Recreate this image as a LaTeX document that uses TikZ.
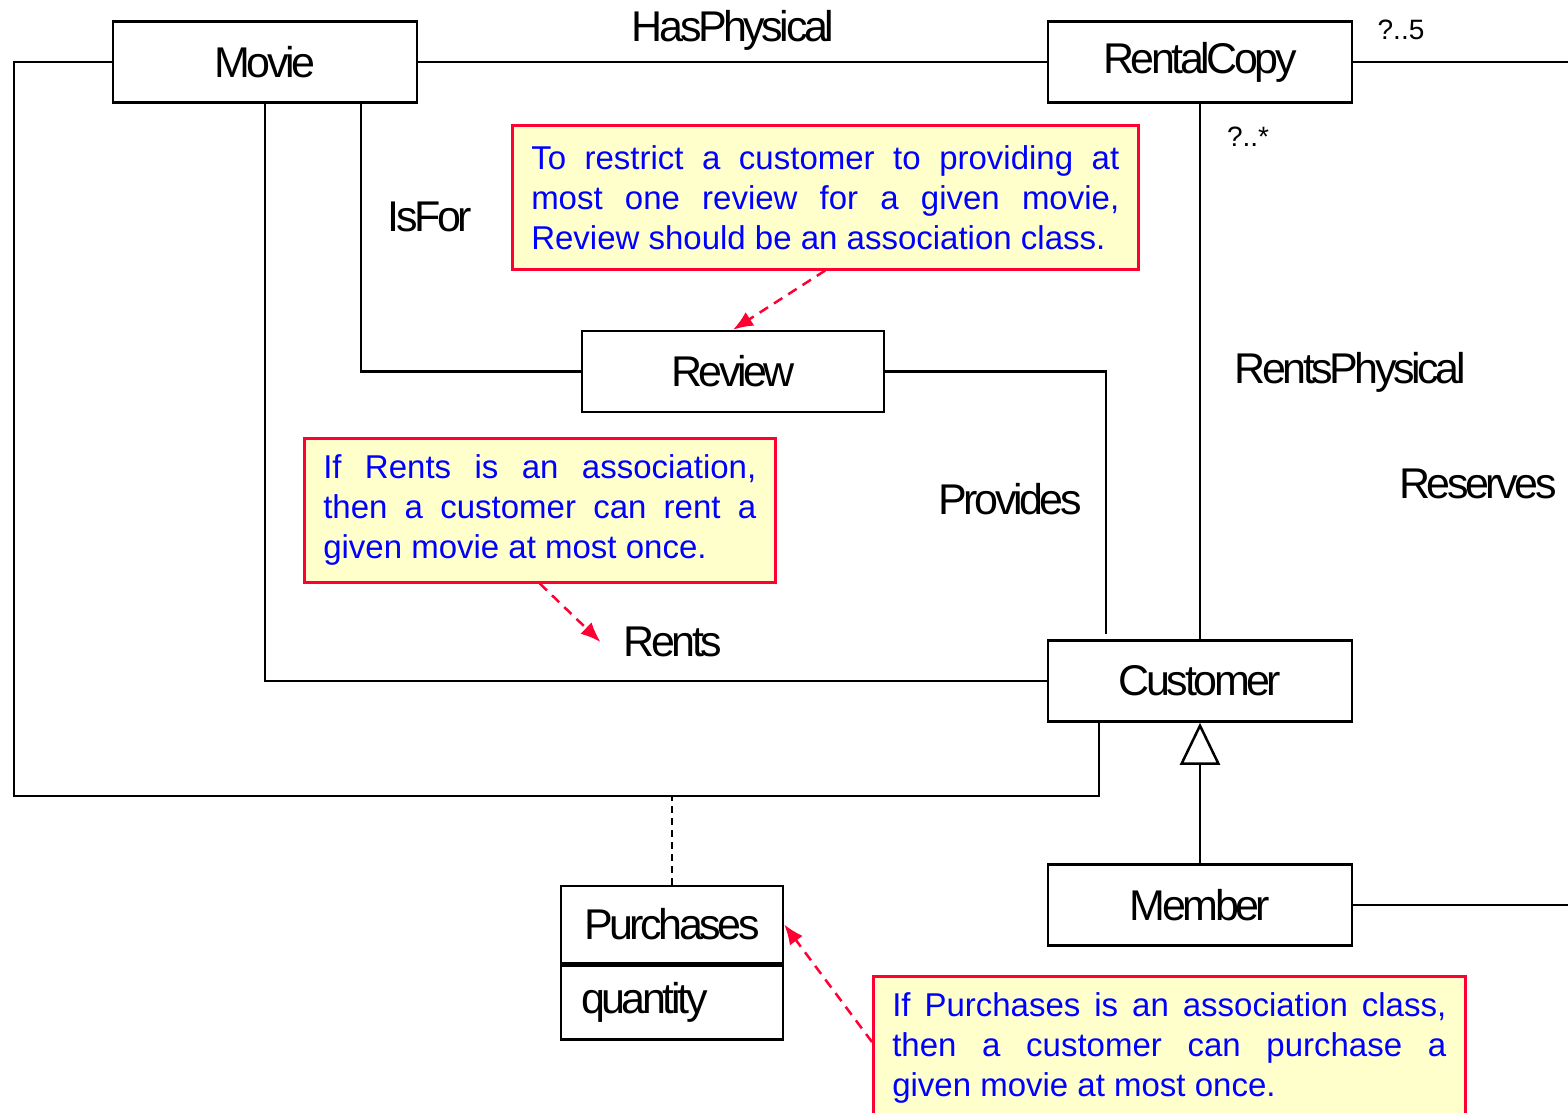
\documentclass[tikz,border=0pt]{standalone}
\usepackage{fontspec}
\setmainfont{Liberation Sans}
\newfontfamily\umlfont[LetterSpace=-8]{Liberation Sans}
\usetikzlibrary{arrows.meta,positioning}
\definecolor{notered}{HTML}{FF0033}
\definecolor{notefill}{HTML}{FFFFCC}
\definecolor{noteblue}{HTML}{0000FF}
\tikzset{
	umlclass/.style={draw, line width=2.5pt, minimum width=304pt, minimum height=81pt, inner sep=0pt, font=\umlfont\fontsize{43}{50}\selectfont},
	assoclabel/.style={inner sep=3pt, font=\umlfont\fontsize{43}{50}\selectfont},
	multlabel/.style={inner sep=2pt, font=\fontsize{28}{32}\selectfont},
	umlnote/.style={draw=notered, fill=notefill, line width=2.5pt, inner xsep=19pt, inner ysep=14pt, minimum height=144pt, anchor=north west, text=noteblue, align=justify, font=\fontsize{33}{40}\selectfont},
	notearrow/.style={draw=notered, line width=2.5pt, dash pattern=on 10pt off 7pt, -{Latex[length=20pt,width=16pt]}},
	assoc/.style={line width=2.5pt},
}
\begin{document}
\begin{tikzpicture}[x=1pt,y=-1pt]
			\useasboundingbox (0,0) rectangle (1568,1112);
			\clip (0,0) rectangle (1568,1112);

			% classes
			\node[umlclass] (movie) at (265,62) {Movie};
			\node[umlclass] (rentalcopy) at (1200,62) {RentalCopy};
			\node[umlclass, minimum width=302pt] (review) at (733,371.5) {Review};
			\node[umlclass] (customer) at (1200,681) {Customer};
			\node[umlclass] (member) at (1200,905) {Member};
			\node[umlclass, minimum width=222pt, minimum height=77pt] (purchases) at (672,924.5) {Purchases};
			\node[umlclass, minimum width=222pt, minimum height=74pt, anchor=north, text width=182pt, inner xsep=20pt, align=left] (quantity) at (purchases.south) {quantity};

			\coordinate (rcout) at (1572,62);
			\coordinate (memberout) at (1572,905);
			\coordinate (loopcorner) at (14,796);

			% associations
			\draw[assoc] (movie) -- (rentalcopy);
			\draw[assoc] (rentalcopy.east) -- (rcout);
			\draw[assoc] (rentalcopy) -- (customer);
			\draw[assoc] ([xshift=96pt]movie.south) |- (review.west);
			\draw[assoc] (review.east) -| ([xshift=-94pt,yshift=5pt]customer.north);
			\draw[assoc] (movie.south) |- (customer.west);
			\draw[assoc] (movie.west) -| (loopcorner) -| ([xshift=-101pt]customer.south);
			\draw[line width=2pt, dash pattern=on 7pt off 5pt] (purchases.north) -- (purchases.north |- loopcorner);
			\draw[assoc] (member.east) -- (memberout);
			\draw[assoc, -{Triangle[open, length=42pt, width=40pt, line width=2.5pt]}] (member) -- (customer);

			% labels
			\node[assoclabel] (hasphysical) at (733,30) {HasPhysical};
			\node[multlabel] (mult5) at (1401,30) {?..5};
			\node[multlabel] (multmany) at (1248,137) {?..*};
			\node[assoclabel] (isfor) at (430,217) {IsFor};
			\node[assoclabel] (rentsphysical) at (1350,372) {RentsPhysical};
			\node[assoclabel] (provides) at (1010,499) {Provides};
			\node[assoclabel] (reserves) at (1478,484) {Reserves};
			\node[assoclabel] (rents) at (673,642) {Rents};

			% notes
			\node[umlnote, text width=588pt] (note1) at (511,124)
			{To restrict a customer to providing at\linebreak most one review for a given movie,\linebreak Review should be an association class.};
			\node[umlnote, text width=433pt] (note2) at (303,437)
			{If Rents is an association,\linebreak then a customer can rent a\linebreak given movie at most once.};
			\node[umlnote, text width=554pt] (note3) at (872,975)
			{If Purchases is an association class,\linebreak then a customer can purchase a\linebreak given movie at most once.};

			\draw[notearrow] (note1.south) -- (review.north);
			\draw[notearrow] (note2.south) -- ([xshift=-20pt]rents.west);
			\draw[notearrow] ([yshift=-67pt]note3.north west) -- (purchases.east);
		\end{tikzpicture}
\end{document}
